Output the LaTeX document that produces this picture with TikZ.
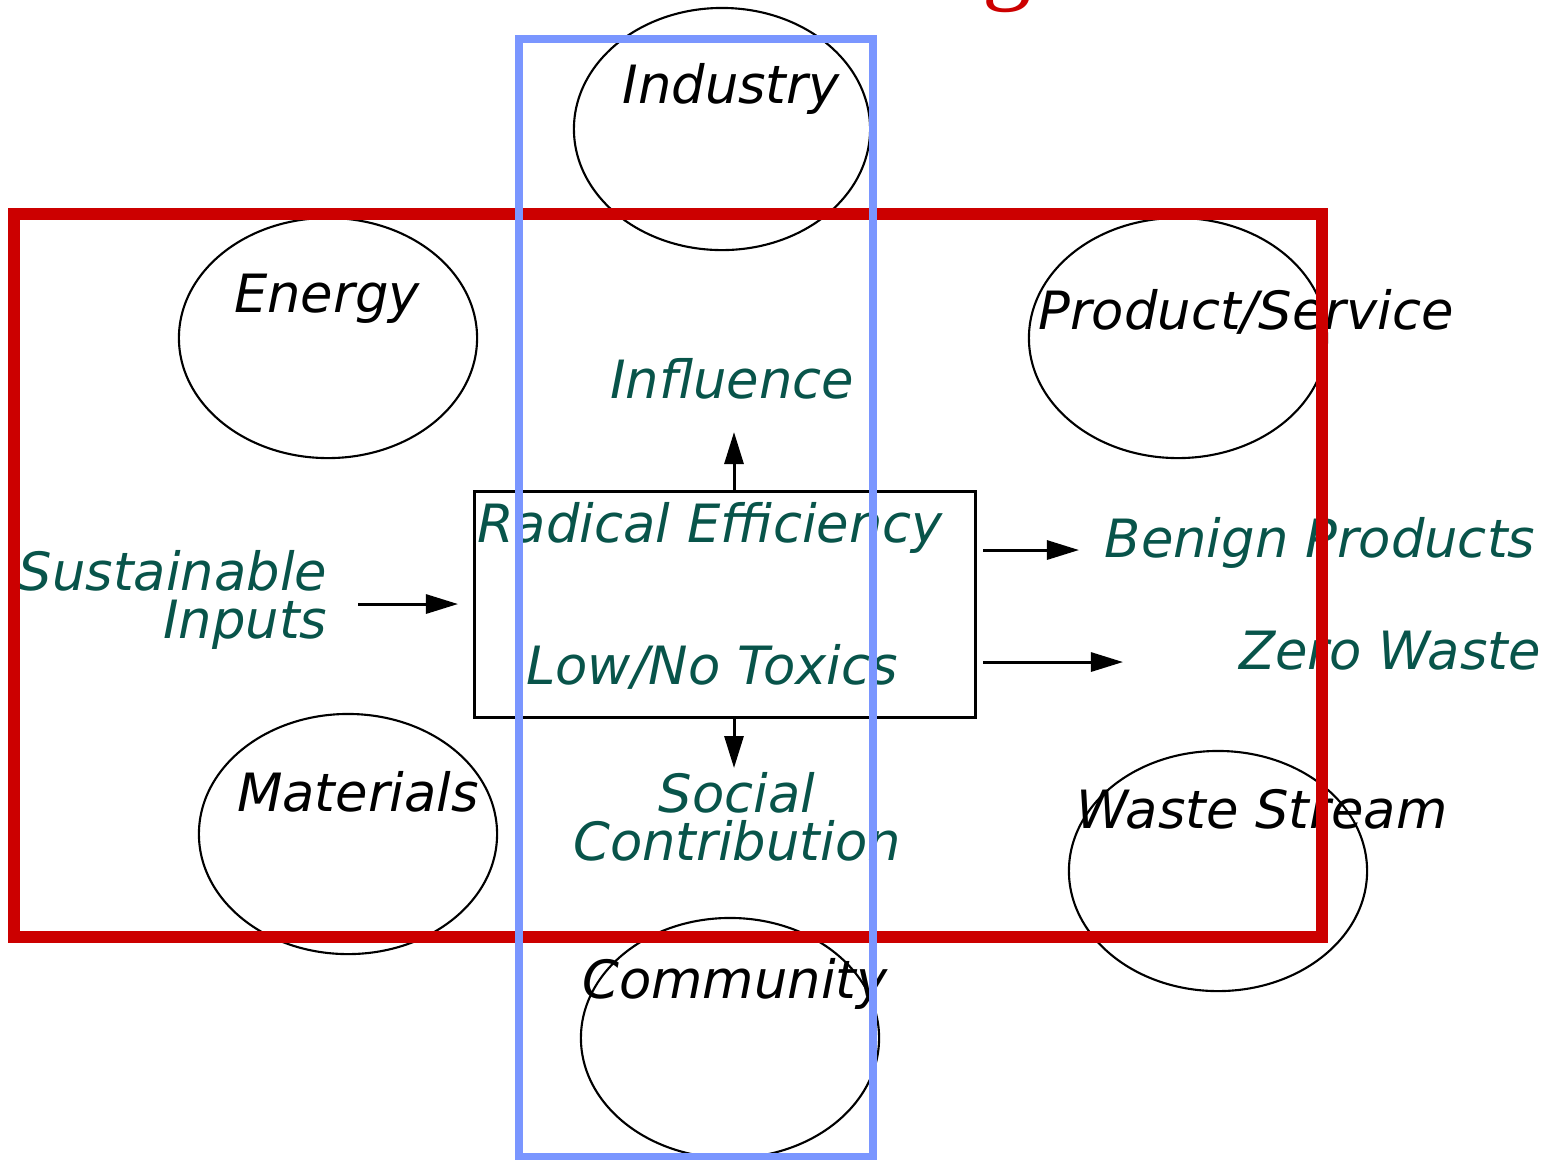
\documentclass[tikz,border=0pt]{standalone}
\usepackage{fontspec}
\setmainfont{DejaVu Sans}
\newfontfamily\titlefont{Liberation Serif}
\usetikzlibrary{arrows.meta}
\definecolor{framered}{RGB}{204,0,0}
\definecolor{frameblue}{RGB}{122,150,255}
\definecolor{goalgreen}{RGB}{8,84,74}
\tikzset{
	oval/.style={draw=black, line width=0.6pt},
	lbl/.style={font=\fontsize{15}{13.6}\selectfont\itshape, inner sep=0pt},
	goal/.style={lbl, text=goalgreen},
	flow/.style={-{Triangle[length=0.32cm,width=0.19cm]}, line width=0.85pt}
}
\begin{document}
\begin{tikzpicture}[x=0.01cm, y=-0.01cm]
				\useasboundingbox (0,0) rectangle (1558,1159);
				% cut-off title
				\node[text=framered, font=\titlefont\fontsize{28}{28}\selectfont, inner sep=0pt, anchor=base] (titleg) at (1007,-9) {g};
				% ellipses
				\draw[oval] (722,129) ellipse [x radius=1.48cm, y radius=1.21cm];
				\draw[oval] (328,338) ellipse [x radius=1.49cm, y radius=1.20cm];
				\draw[oval] (1178,338) ellipse [x radius=1.49cm, y radius=1.20cm];
				\draw[oval] (348,834) ellipse [x radius=1.49cm, y radius=1.20cm];
				\draw[oval] (1218,871) ellipse [x radius=1.49cm, y radius=1.20cm];
				\draw[oval] (730,1038) ellipse [x radius=1.49cm, y radius=1.20cm];
				\node[lbl, anchor=base] (industry) at (731,103) {Industry};
				\node[lbl, anchor=base] (energy) at (327,312) {Energy};
				\node[lbl, anchor=base] (product) at (1246,329) {Product/Service};
				\node[lbl, anchor=base] (materials) at (358,811) {Materials};
				\node[lbl, anchor=base] (waste) at (1262,828) {Waste Stream};
				\node[lbl, anchor=base] (community) at (735,998) {Community};
				% centre box
				\node[rectangle, draw=black, line width=0.85pt,
				minimum width=5cm,
				minimum height=2.25cm] (core) at (725,604.5) {};
				\node[goal, anchor=base] (radical) at (710,542) {Radical Efficiency};
				\node[goal, anchor=base] (toxics) at (712,684) {Low/No Toxics};
				\node[goal, anchor=base] (influence) at (732,398) {Influence};
				\node[goal, anchor=east, align=right] (inputs) at (328,600) {Sustainable\\Inputs};
				\node[goal, anchor=center, align=center] (social) at (737,817) {Social\\Contribution};
				\node[goal, anchor=base] (benign) at (1320,557) {Benign Products};
				\node[goal, anchor=base] (zero) at (1390,669) {Zero Waste};
				% arrows
				\coordinate (up tip) at (734,432);
				\coordinate (down tip) at (734,768);
				\coordinate (in start) at (358,604);
				\coordinate (in tip) at (458,604);
				\coordinate (benign start) at (983,550);
				\coordinate (benign tip) at (1079,550);
				\coordinate (zero start) at (983,662);
				\coordinate (zero tip) at (1123,662);
				\draw[flow] (core.north -| up tip) -- (up tip);
				\draw[flow] (core.south -| down tip) -- (down tip);
				\draw[flow] (in start) -- (in tip);
				\draw[flow] (benign start) -- (benign tip);
				\draw[flow] (zero start) -- (zero tip);
				% frames
				\draw[framered, line width=3.4pt] (14,214) rectangle (1322,937);
				\draw[frameblue, line width=2.2pt] (519,39) rectangle (873,1157);
			\end{tikzpicture}
\end{document}
